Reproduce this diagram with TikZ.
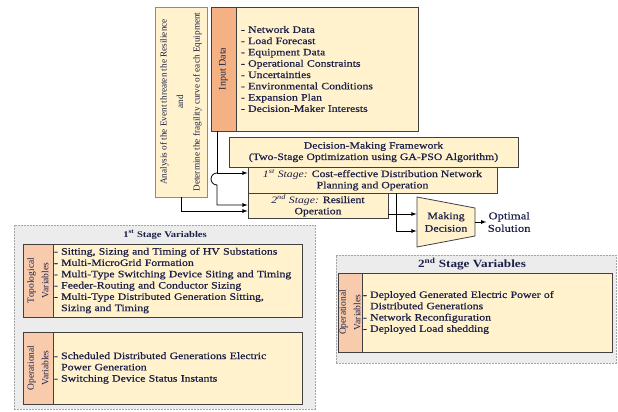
\documentclass[tikz,border=0pt]{standalone}
\usepackage{fontspec}
\setmainfont{Liberation Serif}[FakeStretch=1.2, UprightFeatures={FakeBold=0.6}]
\newfontfamily\upfont{Liberation Serif}
\usetikzlibrary{shapes,arrows,positioning,calc}

\definecolor{ink}{RGB}{28,32,72}
\definecolor{pale}{RGB}{255,242,204}
\definecolor{peach}{RGB}{244,177,131}
\definecolor{blush}{RGB}{248,203,173}
\definecolor{mist}{RGB}{236,236,236}

\begin{document}
\begin{tikzpicture}[x=1pt, y=-1pt, >=latex, line width=0.8pt,
		every node/.append style={text=ink},
		box/.style={rectangle, draw=black!75, fill=pale, inner sep=1pt, font=\fontsize{9.8}{11.3}\selectfont},
		head/.style={rectangle, draw=black!75, rotate=90, inner sep=0pt, align=center, font=\upfont\fontsize{9.5}{14.5}\selectfont},
		list/.style={box, inner xsep=1pt, align=left},
		outer/.style={rectangle, draw=gray!70, dashed, dash pattern=on 2pt off 1pt, fill=mist}]
	\useasboundingbox (0,0) rectangle (618,412);

	\node[box, draw=black!45, rotate=90, minimum width=190, minimum height=52, align=center, font=\upfont\fontsize{9.2}{16.5}\selectfont] (analysis) at (181,102) {Analysis of the Event threaten the Resilience\\and\\Determine the fragility curve of each Equipment};
	\node[head, fill=peach, minimum width=124, minimum height=25, font=\upfont\fontsize{10}{12}\selectfont] (inhead) at (223.5,69) {Input Data};
	\node[list, inner xsep=5pt, text width=172, minimum height=124] (indata) at (327,69) {- Network Data\\- Load Forecast\\- Equipment Data\\- Operational Constraints\\- Uncertainties\\- Environmental Conditions\\- Expansion Plan\\- Decision-Maker Interests};

	\node[box, minimum width=289, minimum height=30, align=center] (frame) at (373.5,152) {Decision-Making Framework\\(Two-Stage Optimization using GA-PSO Algorithm)};
	\node[box, minimum width=249, minimum height=26, align=center] (stage1) at (372.5,180) {\textit{1\textsuperscript{st} Stage:} Cost-effective Distribution Network\\Planning and Operation};
	\node[box, minimum width=140, minimum height=25, align=center] (stage2) at (318,205.5) {\textit{2\textsuperscript{nd} Stage:} Resilient\\Operation};

	\draw[draw=black!75, fill=pale] (417,197) -- (475,208) -- (475,236) -- (417,247) -- cycle;
	\node[minimum width=58, minimum height=50, inner sep=0pt, align=center, font=\fontsize{10}{12.5}\selectfont] (decide) at (446,222) {Making\\Decision};
	\node[right=11pt of decide, inner sep=1pt, align=center, font=\fontsize{10.5}{12.5}\selectfont] (opt) {Optimal\\Solution};

	\coordinate (split) at (217,173);
	\draw[->] (inhead.west -| split) -- (split) -- (split -| stage1.west);
	\draw[->] (split) arc[start angle=90, end angle=270, radius=6pt] |- ([yshift=0.5pt]stage2.west);
	\draw[->] (analysis.west) |- ([yshift=-5.5pt]stage2.west);
	\draw[->] ([yshift=-8.5pt]stage2.east) -- ([yshift=-8.5pt]stage2.east -| decide.west);
	\draw[->] ([xshift=23.5pt]stage1.south) |- ([yshift=-9pt]decide.west);
	\draw[->] (decide.east) -- (opt.west);

	\node[outer, minimum width=301, minimum height=184] (var1) at (164.5,317) {};
	\node[font=\fontsize{8.8}{11}\selectfont\bfseries] (var1title) at (165,235) {1\textsuperscript{st} Stage Variables};
	\node[head, fill=blush, minimum width=73, minimum height=30] (topohead) at (38,280.5) {Topological\\Variables};
	\node[list, text width=247, minimum height=73] (topolist) at (177.5,280.5) {- Sitting, Sizing and Timing of HV Substations\\- Multi-MicroGrid Formation\\- Multi-Type Switching Device Siting and Timing\\- Feeder-Routing and Conductor Sizing\\- Multi-Type Distributed Generation Sitting,\\\phantom{- }Sizing and Timing};
	\node[head, fill=blush, minimum width=72, minimum height=30] (ophead) at (38,368) {Operational\\Variables};
	\node[list, text width=247, minimum height=72] (oplist) at (177.5,368) {- Scheduled Distributed Generations Electric\\\phantom{- }Power Generation\\- Switching Device Status Instants};

	\node[outer, minimum width=280, minimum height=108] (var2) at (476,309) {};
	\node[font=\fontsize{11}{13}\selectfont\bfseries] (var2title) at (472,264) {2\textsuperscript{nd} Stage Variables};
	\node[head, fill=blush, minimum width=79, minimum height=24] (op2head) at (350,312.5) {Operational\\Variables};
	\node[list, text width=248, minimum height=79] (op2list) at (487,312.5) {- Deployed Generated Electric Power of\\\phantom{- }Distributed Generations\\- Network Reconfiguration\\- Deployed Load shedding};
\end{tikzpicture}
\end{document}
